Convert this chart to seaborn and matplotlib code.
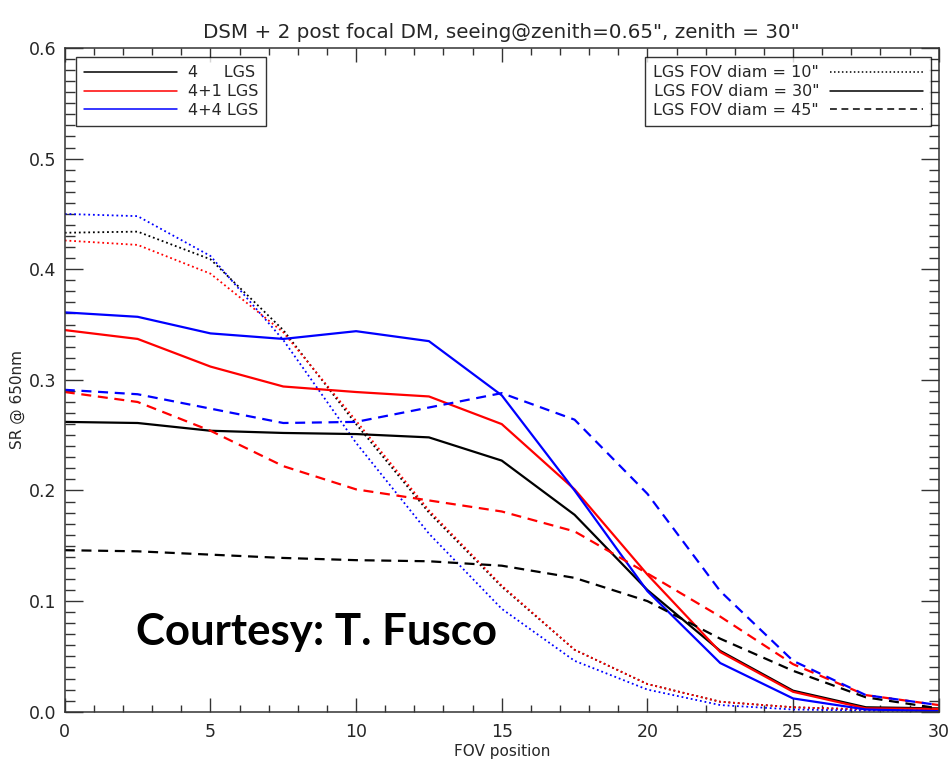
import numpy as np
import pandas as pd
import matplotlib
matplotlib.use("Agg")
import matplotlib.pyplot as plt
from matplotlib.lines import Line2D
from matplotlib.ticker import MultipleLocator
import seaborn as sns

# ---- data ----
fov_position = [0, 2.5, 5, 7.5, 10, 12.5, 15, 17.5, 20, 22.5, 25, 27.5, 30]
configs = ["4     LGS", "4+1 LGS", "4+4 LGS"]
fov_diams = ["10", "30", "45"]

lgs4_10 = [0.433, 0.434, 0.409, 0.345, 0.260, 0.180, 0.113, 0.056, 0.025, 0.009, 0.004, 0.002, 0.001]
lgs4_30 = [0.262, 0.261, 0.254, 0.252, 0.251, 0.248, 0.227, 0.178, 0.110, 0.055, 0.019, 0.004, 0.003]
lgs4_45 = [0.146, 0.145, 0.142, 0.139, 0.137, 0.136, 0.132, 0.121, 0.100, 0.066, 0.037, 0.013, 0.003]
lgs41_10 = [0.426, 0.422, 0.396, 0.343, 0.263, 0.182, 0.114, 0.056, 0.025, 0.009, 0.004, 0.002, 0.001]
lgs41_30 = [0.345, 0.337, 0.312, 0.294, 0.289, 0.285, 0.260, 0.201, 0.124, 0.054, 0.018, 0.003, 0.0025]
lgs41_45 = [0.289, 0.280, 0.254, 0.222, 0.201, 0.191, 0.181, 0.163, 0.125, 0.086, 0.043, 0.015, 0.006]
lgs44_10 = [0.450, 0.448, 0.412, 0.336, 0.243, 0.161, 0.093, 0.046, 0.020, 0.006, 0.002, 0.001, 0.0005]
lgs44_30 = [0.361, 0.357, 0.342, 0.337, 0.344, 0.335, 0.286, 0.200, 0.109, 0.044, 0.012, 0.002, 0.0005]
lgs44_45 = [0.291, 0.287, 0.274, 0.261, 0.262, 0.275, 0.288, 0.264, 0.197, 0.109, 0.046, 0.015, 0.006]

series = {
    (configs[0], fov_diams[0]): lgs4_10,
    (configs[0], fov_diams[1]): lgs4_30,
    (configs[0], fov_diams[2]): lgs4_45,
    (configs[1], fov_diams[0]): lgs41_10,
    (configs[1], fov_diams[1]): lgs41_30,
    (configs[1], fov_diams[2]): lgs41_45,
    (configs[2], fov_diams[0]): lgs44_10,
    (configs[2], fov_diams[1]): lgs44_30,
    (configs[2], fov_diams[2]): lgs44_45,
}

rows = []
for (cfg, diam), vals in series.items():
    for xv, yv in zip(fov_position, vals):
        rows.append({"x": xv, "sr": yv, "config": cfg, "diam": diam})
df = pd.DataFrame(rows)

# ---- style ----
sns.set_style("ticks")
plt.rcParams["font.family"] = ["DejaVu Sans"]
plt.rcParams["axes.linewidth"] = 1.1

colors = {configs[0]: "black", configs[1]: "#ff0000", configs[2]: "#0000ff"}
dash_map = {"10": (1, 1.6), "30": "", "45": (4.5, 3)}

fig = plt.figure(figsize=(9.53, 7.62), dpi=100)
ax = fig.add_axes([0.068, 0.066, 0.917, 0.871])

for diam in fov_diams:
    sub = df[df["diam"] == diam]
    lw = 1.3 if diam == "10" else 1.6
    sns.lineplot(data=sub, x="x", y="sr", hue="config", palette=colors,
                 hue_order=configs, ax=ax, legend=False, lw=lw,
                 estimator=None, sort=False)
    for line in ax.get_lines()[-3:]:
        if dash_map[diam] == "":
            line.set_linestyle("-")
        else:
            line.set_dashes(dash_map[diam])

ax.set_xlim(0, 30)
ax.set_ylim(0, 0.6)
ax.xaxis.set_major_locator(MultipleLocator(5))
ax.xaxis.set_minor_locator(MultipleLocator(1))
ax.yaxis.set_major_locator(MultipleLocator(0.1))
ax.yaxis.set_minor_locator(MultipleLocator(0.01))
ax.yaxis.set_major_formatter(matplotlib.ticker.FormatStrFormatter("%.1f"))
ax.tick_params(axis="both", which="both", direction="in", top=True, right=True,
               labelsize=12.5, width=1.0, color="#333333")
ax.tick_params(axis="x", which="major", length=10, pad=8)
ax.tick_params(axis="x", which="minor", length=5)
ax.tick_params(axis="y", which="major", length=13, pad=6)
ax.tick_params(axis="y", which="minor", length=7)
for s in ax.spines.values():
    s.set_color("#333333")

ax.set_xlabel("FOV position", fontsize=11, labelpad=2)
ax.set_ylabel("SR @ 650nm", fontsize=11)
ax.yaxis.set_label_coords(-0.045, 0.47)
ax.set_title("DSM + 2 post focal DM, seeing@zenith=0.65\", zenith = 30\"",
             fontsize=14.3, pad=7)

# legend 1: configurations
h1 = [Line2D([], [], color=colors[c], lw=1.1) for c in configs]
leg1 = ax.legend(h1, configs, loc="upper left", bbox_to_anchor=(0.013, 0.986),
                 fontsize=11.5, frameon=True, fancybox=False, edgecolor="black",
                 handlelength=5.8, handletextpad=0.7, labelspacing=0.24,
                 borderpad=0.5, borderaxespad=0)
leg1.get_frame().set_linewidth(1.0)
ax.add_artist(leg1)

# legend 2: FOV diameters
h2 = [Line2D([], [], color="black", lw=1.1, linestyle=(0, (1, 1.6))),
      Line2D([], [], color="black", lw=1.1, linestyle="-"),
      Line2D([], [], color="black", lw=1.1, linestyle=(0, (4.5, 3)))]
labels2 = [f"LGS FOV diam = {d}\"" for d in fov_diams]
leg2 = ax.legend(h2, labels2, loc="upper right", bbox_to_anchor=(0.991, 0.986),
                 fontsize=11.5, frameon=True, fancybox=False, edgecolor="black",
                 handlelength=5.8, handletextpad=0.7, labelspacing=0.24,
                 borderpad=0.5, borderaxespad=0, markerfirst=False)
leg2.get_frame().set_linewidth(1.0)

fig.text(0.143, 0.17, "Courtesy: T. Fusco", fontsize=31.5, fontweight="bold",
         family=["Lato", "DejaVu Sans"], ha="left", va="center", color="black")

fig.savefig("out.png", dpi=100)
